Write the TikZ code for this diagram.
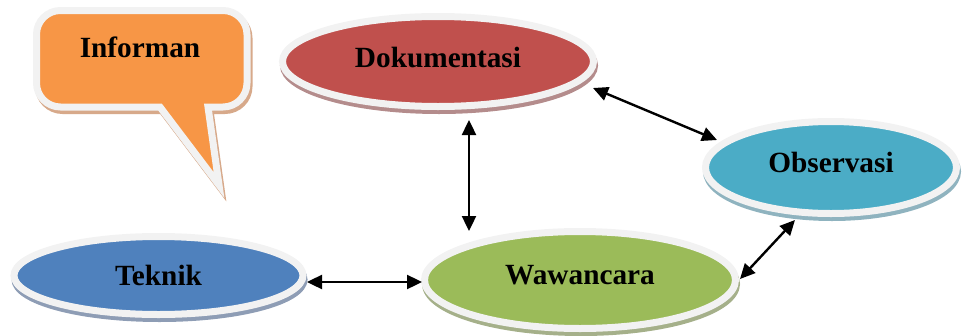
\documentclass[tikz,border=0pt]{standalone}
\usepackage{fontspec}
\setmainfont{Liberation Serif}
\usetikzlibrary{shapes.geometric,arrows.meta,calc}
\definecolor{rim}{HTML}{F2F2F2}
\definecolor{dokfill}{HTML}{C0504D}
\definecolor{dokshad}{HTML}{B48C8C}
\definecolor{obsfill}{HTML}{4BACC6}
\definecolor{obsshad}{HTML}{8FB3BF}
\definecolor{tekfill}{HTML}{4F81BD}
\definecolor{tekshad}{HTML}{8E9DB5}
\definecolor{wawfill}{HTML}{9BBB59}
\definecolor{wawshad}{HTML}{A5B08A}
\definecolor{inffill}{HTML}{F79646}
\definecolor{infshad}{HTML}{D7A98A}
\tikzset{
  bub/.style 2 args={ellipse, fill=#1, draw=rim, line width=7pt, inner sep=0pt,
    font=\fontsize{29.3}{32}\selectfont\bfseries, text=black,
    preaction={fill=#2, draw=#2, line width=7pt, transform canvas={shift={(1pt,-4pt)}}}},
  lbl/.style={font=\fontsize{29.3}{32}\selectfont\bfseries, text=black, inner sep=0pt},
  dbl/.style={line width=2.4pt, {Triangle[length=15pt,width=14pt]}-{Triangle[length=15pt,width=14pt]}},
}
\begin{document}
\begin{tikzpicture}[x=1pt,y=-1pt]
\useasboundingbox (0,0) rectangle (962,335);
% callout shape
\def\callpath{(160,107) -- (60.5,107) .. controls (47.25,107) and (36.5,96.25) .. (36.5,83) -- (36.5,34.5) .. controls (36.5,21.25) and (47.25,10.5) .. (60.5,10.5) -- (223,10.5) .. controls (236.25,10.5) and (247,21.25) .. (247,34.5) -- (247,83) .. controls (247,96.25) and (236.25,107) .. (223,107) -- (208,107) -- (219,185) -- cycle}
\begin{scope}[transform canvas={shift={(2pt,-3.5pt)}}]
\path[fill=infshad, draw=infshad, line width=7pt, line join=miter] \callpath;
\end{scope}
\path[fill=inffill, draw=rim, line width=7pt, line join=miter] \callpath;
\node[lbl] (inf) at (140,47) {Informan};
% ellipses
\node[bub={dokfill}{dokshad}, minimum width=311pt, minimum height=90pt, text depth=9pt] (dok) at (438,61.5) {Dokumentasi};
\node[bub={obsfill}{obsshad}, minimum width=251pt, minimum height=92pt, text depth=11pt] (obs) at (831,167.5) {Observasi};
\node[bub={tekfill}{tekshad}, minimum width=289pt, minimum height=78pt] (tek) at (158.5,275.5) {Teknik};
\node[bub={wawfill}{wawshad}, minimum width=311pt, minimum height=97pt, text depth=10pt] (waw) at (580,280) {Wawancara};
% connectors
\draw[dbl] ([shift={(155,26.5)}]dok.center) -- ([shift={(-114,-27.5)}]obs.center);
\draw[dbl] ([shift={(31,58.5)}]dok.center) -- ([shift={(-111,-49)}]waw.center);
\draw[dbl] ([shift={(148.5,6.5)}]tek.center) -- ([shift={(-158,2)}]waw.center);
\draw[dbl] ([shift={(160,-1)}]waw.center) -- ([shift={(-36,52.5)}]obs.center);
\end{tikzpicture}
\end{document}
